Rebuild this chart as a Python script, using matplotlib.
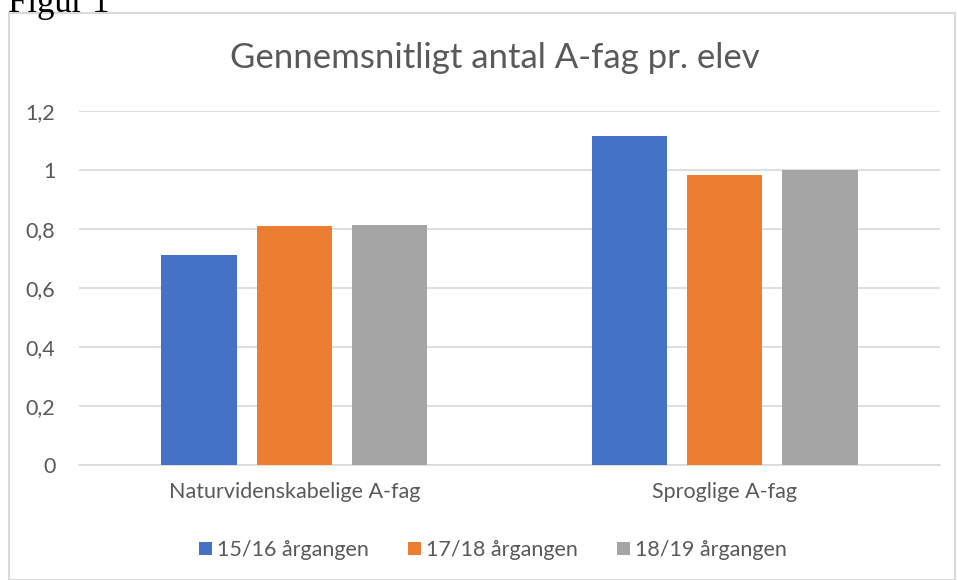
import matplotlib
matplotlib.use('Agg')
import matplotlib.pyplot as plt
import numpy as np
from matplotlib.patches import Rectangle

categories = ['Naturvidenskabelige A-fag', 'Sproglige A-fag']
series_names = ['15/16 årgangen', '17/18 årgangen', '18/19 årgangen']
values = [
    [0.713, 1.115],   # 15/16
    [0.810, 0.983],   # 17/18
    [0.814, 1.000],   # 18/19
]
colors = ['#4472C4', '#ED7D31', '#A5A5A5']
yticks = [0, 0.2, 0.4, 0.6, 0.8, 1.0, 1.2]
ytick_labels = ['0', '0,2', '0,4', '0,6', '0,8', '1', '1,2']

plt.rcParams['font.family'] = ['Lato', 'DejaVu Sans']
txt = '#595959'

fig = plt.figure(figsize=(9.57, 5.8), dpi=100)
W, H = 957, 580

# chart frame
fig.patches.append(Rectangle((9 / W, 0), 946 / W, 1 - 13 / H, transform=fig.transFigure,
                             fill=False, edgecolor='#D9D9D9', linewidth=1.5))
fig.text(8 / W, 1 - 3 / H, 'Figur 1', family='Liberation Serif', fontsize=25,
         color='black', ha='left', va='center')

ax = fig.add_axes([79 / W, 1 - 465 / H, (940 - 79) / W, (465 - 111) / H])
x = np.arange(len(categories))
width = 0.175
step = 0.221
for i, (name, vals) in enumerate(zip(series_names, values)):
    ax.bar(x + (i - 1) * step, vals, width, color=colors[i], label=name, zorder=3)

ax.set_xlim(-0.5, 1.5)
ax.set_ylim(0, 1.2)
ax.set_yticks(yticks)
ax.set_yticklabels(ytick_labels)
ax.set_xticks(x)
ax.set_xticklabels(categories)
ax.grid(axis='y', color='#D9D9D9', linewidth=1.2, zorder=0)
for s in ['top', 'right', 'left']:
    ax.spines[s].set_visible(False)
ax.spines['bottom'].set_color('#D9D9D9')
ax.spines['bottom'].set_linewidth(1.2)
ax.tick_params(axis='both', length=0, colors=txt, labelsize=15.5)
ax.tick_params(axis='y', pad=17)
ax.tick_params(axis='x', pad=12)

fig.text(495 / W, 1 - 58 / H, 'Gennemsnitligt antal A-fag pr. elev', ha='center', va='center',
         fontsize=25, color=txt)

leg = fig.legend(loc='center', bbox_to_anchor=(493 / W, 1 - 550 / H), ncol=3, frameon=False,
                 fontsize=15.5, handlelength=0.6, handleheight=0.6, columnspacing=1.8,
                 handletextpad=0.25)
for t in leg.get_texts():
    t.set_color(txt)

fig.savefig('out.png', dpi=100)
